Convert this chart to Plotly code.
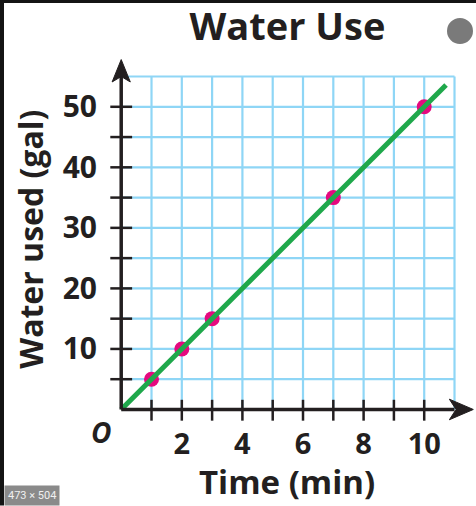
import plotly.graph_objects as go

# data
time_min = [1, 2, 3, 7, 10]
water_gal = [5, 10, 15, 35, 50]
line_time = [0, 10.72]
line_water = [0, 53.6]
x_tick_vals = [2, 4, 6, 8, 10]
y_tick_vals = [10, 20, 30, 40, 50]
grid_x = list(range(1, 12))
grid_y = list(range(5, 60, 5))
minor_x_ticks = list(range(1, 11))
minor_y_ticks = list(range(5, 55, 5))

W, H = 476, 506
XS, YS = 30.3, 6.06  # pixels per unit
L, R, T = 100, 0, 58
x_range = [-0.7, -0.7 + (W - L - R) / XS]
y_range = [-2.4, 58.06]
B = H - T - (y_range[1] - y_range[0]) * YS

FONT = "Open Sans"
GRID = "#8fd6f6"
INK = "#231f20"


def px(x):
    return (x - L) / (W - L - R)


def py(y):
    return (H - B - y) / (H - T - B)


fig = go.Figure()

shapes = []
# grid
for gx in grid_x:
    shapes.append(dict(type="line", x0=gx, x1=gx, y0=0, y1=55,
                       line=dict(color=GRID, width=2.2), layer="below"))
for gy in grid_y:
    shapes.append(dict(type="line", x0=0, x1=11, y0=gy, y1=gy,
                       line=dict(color=GRID, width=2.2), layer="below"))
# axes
shapes.append(dict(type="line", x0=0, x1=11.0, y0=0, y1=0,
                   line=dict(color=INK, width=3.5)))
shapes.append(dict(type="line", x0=0, x1=0, y0=0, y1=55.2,
                   line=dict(color=INK, width=3.5)))
# crossing tick marks
for tx in minor_x_ticks:
    shapes.append(dict(type="line", x0=tx, x1=tx, y0=-1.85, y1=1.6,
                       line=dict(color=INK, width=2.5)))
for ty in minor_y_ticks:
    shapes.append(dict(type="line", x0=-0.36, x1=0.36, y0=ty, y1=ty,
                       line=dict(color=INK, width=2.5)))
# arrow heads
shapes.append(dict(type="path",
                   path="M 11.62,0 L 10.83,1.7 L 11.05,0 L 10.83,-1.7 Z",
                   fillcolor=INK, line=dict(color=INK, width=1)))
shapes.append(dict(type="path",
                   path="M 0,57.8 L 0.3,54.1 L 0,55.0 L -0.3,54.1 Z",
                   fillcolor=INK, line=dict(color=INK, width=1)))
# screenshot frame bits
shapes.append(dict(type="rect", xref="paper", yref="paper",
                   x0=px(0), x1=px(W), y0=py(3), y1=py(0),
                   fillcolor="#141414", line_width=0))
shapes.append(dict(type="rect", xref="paper", yref="paper",
                   x0=px(0), x1=px(4), y0=py(H), y1=py(0),
                   fillcolor="#141414", line_width=0))
shapes.append(dict(type="circle", xref="paper", yref="paper",
                   x0=px(447), x1=px(473), y0=py(44), y1=py(18),
                   fillcolor="#7a7a7a", line_width=0))

fig.add_scatter(x=time_min, y=water_gal, mode="markers",
                marker=dict(color="#e5097f", size=15), cliponaxis=False,
                showlegend=False)
fig.add_scatter(x=line_time, y=line_water, mode="lines",
                line=dict(color="#1fa84b", width=5), showlegend=False)

annotations = [
    dict(x=px(101), y=py(432), text="<i><b>O</b></i>",
         font=dict(family=FONT, size=28, color=INK)),
    dict(x=px(287), y=py(482), text="<b>Time (min)</b>",
         font=dict(family=FONT, size=33, color=INK)),
    dict(x=px(31), y=py(240), text="<b>Water used (gal)</b>", textangle=-90,
         font=dict(family=FONT, size=32, color=INK)),
]
for a in annotations:
    a.update(xref="paper", yref="paper", xanchor="center", yanchor="middle",
             showarrow=False)
annotations.append(
    dict(xref="paper", yref="paper", x=px(4), y=py(506), xanchor="left",
         yanchor="bottom", text="473 × 504", showarrow=False,
         bgcolor="#8a8a8a", borderpad=3,
         font=dict(family="Roboto", size=11, color="#f0f0f0")))

fig.update_layout(
    width=W, height=H,
    margin=dict(l=L, r=R, t=T, b=B, pad=0),
    paper_bgcolor="white", plot_bgcolor="white",
    title=dict(text="<b>Water Use</b>", xref="container", yref="container",
               x=287.5 / W, y=1 - 27 / H, xanchor="center", yanchor="middle",
               font=dict(family=FONT, size=38, color=INK)),
    shapes=shapes,
    annotations=annotations,
    xaxis=dict(range=x_range, showgrid=False, zeroline=False, showline=False,
               tickvals=x_tick_vals, ticks="", ticklabelstandoff=0,
               tickfont=dict(family=FONT, size=29, color=INK, weight="bold")),
    yaxis=dict(range=y_range, showgrid=False, zeroline=False, showline=False,
               tickvals=y_tick_vals, ticks="", ticklabelstandoff=2,
               tickfont=dict(family=FONT, size=30, color=INK, weight="bold")),
)

fig.write_html("out.html", config={"displayModeBar": False},
               post_script="document.body.style.margin='0';")
